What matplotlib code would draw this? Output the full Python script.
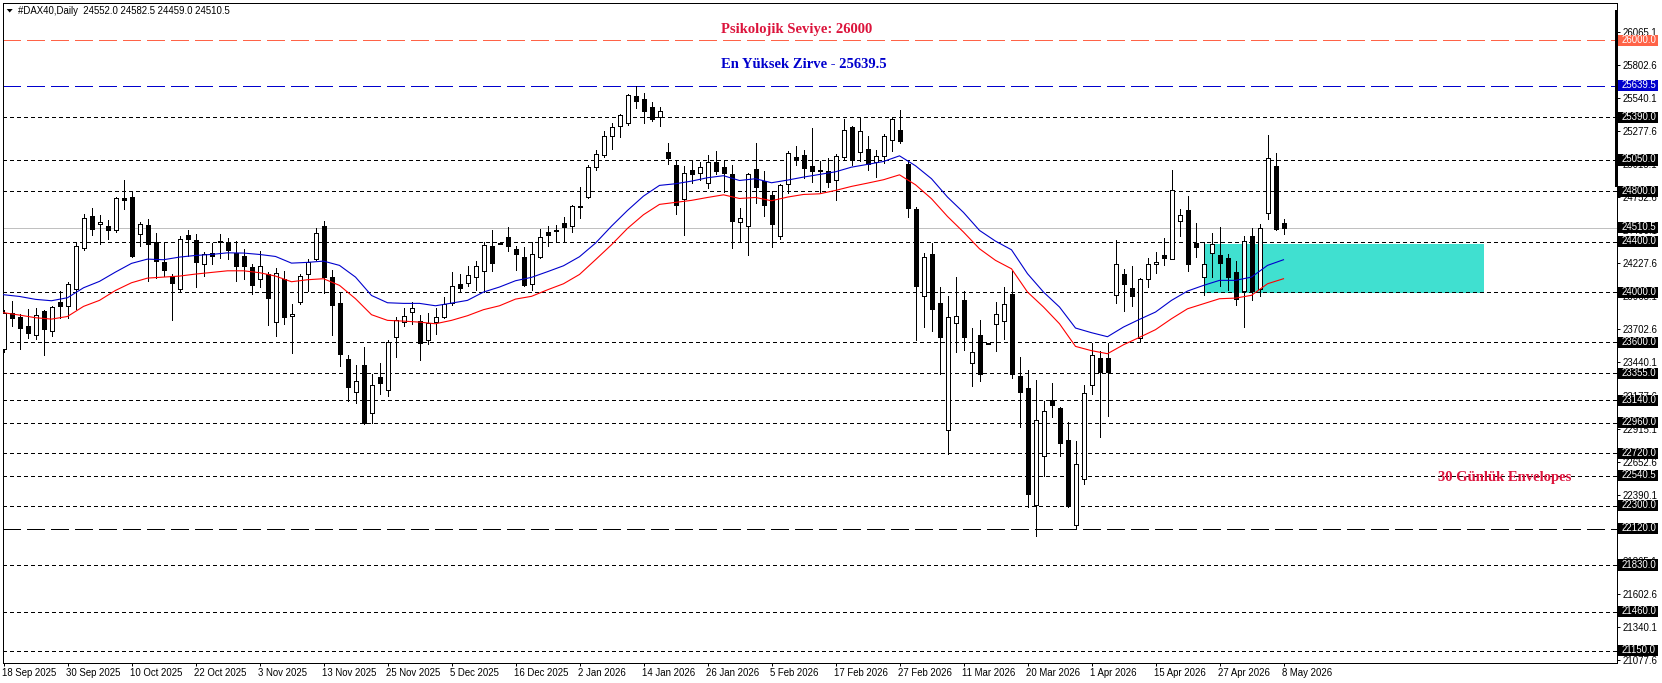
import numpy as np
import matplotlib
matplotlib.use("Agg")
import matplotlib.pyplot as plt
from matplotlib.patches import Rectangle, Polygon
from matplotlib.transforms import ScaledTranslation

# OHLC, one row of four lists per candle
opens = [23550,23836,23798,23727,23661,23846,23690,23918,23889,24024,24352,24601,24540,24522,24493,24744,24752,24461,24535,24400,24241,24130,24024,24450,24410,24222,24312,24408,24400,24310,24289,24196,24106,24140,23761,24100,23812,23923,24146,24262,24527,24122,23915,23470,23208,23422,23038,23327,23224,23645,23759,23844,23772,23618,23761,23801,
         23913,24061,24074,24122,24167,24368,24387,24440,24344,24281,24064,24278,24479,24495,24551,24525,24686,24752,24993,25086,25240,25319,25343,25555,25536,25473,25391,25110,25007,24739,24972,24946,24866,25036,24996,24940,24556,24525,24980,24882,24774,24445,24858,25076,25091,25004,24972,24964,24893,25076,25314,25115,25139,25036,
         25083,25211,25290,25022,24662,23971,24305,23915,22903,23756,23934,23438,23661,23595,23748,23772,23987,23335,23240,22310,22699,23139,23081,22826,22151,22514,23264,23473,23473,23976,24140,24034,23634,24103,24225,24291,24265,24567,24649,24387,24119,24310,24291,24267,24162,24005,24448,24026,24630,25004,24552]
highs = [23860,23926,23828,23862,23870,23859,23891,24005,24082,24400,24622,24665,24609,24575,24752,24887,24805,24559,24583,24471,24395,24146,24442,24490,24458,24320,24392,24463,24432,24408,24339,24220,24328,24156,24193,24169,23902,24146,24259,24511,24567,24177,23989,23502,23422,23560,23346,23438,23621,23804,23875,23923,23814,23830,23873,23957,
         24156,24140,24204,24244,24400,24490,24390,24514,24368,24358,24400,24503,24522,24535,24593,24689,24832,25009,25126,25282,25346,25415,25576,25640,25584,25513,25473,25189,25052,25004,25052,25036,25091,25118,25052,25012,24670,24946,25189,24964,24805,24856,25118,25158,25126,25306,25041,25068,25099,25375,25319,25380,25237,25131,
         25258,25385,25444,25038,24673,24313,24387,24042,23965,24122,24011,23711,23775,23597,23918,24037,24167,23481,23383,23298,23131,23279,23086,22970,22813,23258,23597,23534,23597,24416,24185,24204,24114,24268,24315,24426,24967,24657,24760,24546,24400,24466,24514,24299,24244,24442,24506,24538,25245,25107,24582.5]
lows = [23523,23727,23547,23634,23624,23499,23648,23791,23793,23862,24331,24453,24381,24418,24477,24657,24275,24365,24087,24108,24124,23777,24000,24286,24040,24127,24220,24270,24259,24087,24101,23987,24040,23738,23650,23746,23515,23905,24005,24252,23995,23658,23412,23134,23118,22955,22959,23189,23173,23483,23730,23746,23462,23589,23663,23793,
        23894,24000,24048,24013,24000,24167,24379,24326,24172,24048,24013,24273,24363,24405,24400,24477,24585,24747,24967,25073,25134,25232,25330,25462,25343,25359,25319,25017,24620,24453,24866,24893,24826,24935,24797,24350,24397,24294,24707,24604,24358,24419,24787,25009,24909,24874,24795,24834,24731,25060,25007,25041,24970,24911,
        25025,25120,25184,24596,23618,23722,23690,23348,22713,23523,23539,23253,23293,23587,23528,23626,23316,22927,22291,22061,22540,23005,22694,22291,22119,22471,23189,22848,23015,23913,23849,23889,23610,24040,24151,24215,24265,24445,24167,24278,23979,24119,24050,24013,23897,23722,23936,23968,24580,24493,24459]
closes = [23833,23793,23714,23671,23820,23706,23883,23886,24066,24368,24591,24501,24559,24490,24744,24731,24283,24540,24381,24246,24172,24071,24421,24418,24238,24299,24286,24400,24334,24207,24207,24055,24209,23952,24151,23801,23828,24130,24238,24471,24119,23897,23507,23245,23295,22962,23263,23277,23603,23777,23812,23875,23597,23756,23804,23904,
          24050,24029,24138,24209,24376,24230,24382,24366,24302,24056,24305,24440,24453,24487,24517,24686,24676,24996,25099,25242,25314,25409,25568,25518,25438,25375,25441,25062,24691,24948,24938,24993,25036,24962,24948,24564,24588,24940,24834,24691,24540,24850,25107,25049,24985,24962,24964,24874,25083,25290,25052,25282,25015,25081,
          25242,25377,25200,24667,24048,24281,23865,23642,23804,23812,23642,23526,23348,23589,23828,23907,23348,23205,22395,22985,23057,23102,22800,22299,22636,23200,23502,23362,23362,24225,24064,23968,24106,24225,24241,24270,24813,24615,24223,24358,24225,24384,24230,24116,23944,24408,24005,24511,25068,24501,24510.5]

# envelope lines, read every second candle
env_upper = [23979,23965,23942,23931,23955,24034,24085,24159,24228,24262,24257,24278,24291,24299,24312,24310,24299,24283,24230,24236,24246,24212,24119,23973,23915,23910,23910,23891,23912,23934,
             24000,24040,24090,24117,24162,24209,24281,24389,24524,24649,24763,24848,24861,24882,24909,24925,24887,24901,24869,24890,24914,24935,24956,24993,25015,
             25038,25083,25004,24901,24755,24633,24490,24405,24336,24146,24000,23881,23714,23677,23645,23722,23783,23841,23934,24008,24053,24093,24093,24119,24212,24257]
env_lower = [23836,23817,23796,23785,23806,23886,23934,24013,24074,24111,24119,24127,24143,24156,24169,24169,24154,24127,24082,24098,24106,24053,23947,23820,23775,23769,23761,23748,23775,23812,
             23860,23891,23944,23966,24018,24066,24140,24257,24376,24506,24615,24697,24713,24729,24752,24773,24744,24752,24726,24755,24776,24781,24808,24840,24866,
             24893,24932,24853,24742,24601,24477,24344,24252,24185,24000,23881,23748,23568,23534,23510,23581,23640,23701,23788,23867,23907,23947,23952,23974,24066,24106]

short_levels = [25390, 25050, 24800, 24400, 24000, 23600, 23355, 23140, 22960, 22720, 22540.5, 22300, 21830, 21460, 21150]
long_levels = [26000, 25639.5, 22120]
long_colors = ["#FF6347", "#0000CD", "black"]
last_price = 24510.5

price_ticks = [26065.1, 25802.6, 25540.1, 25277.6, 25015.1, 24752.6, 24490.1, 24227.6, 23965.1, 23702.6, 23440.1,
               23177.6, 22915.1, 22652.6, 22390.1, 22127.6, 21865.1, 21602.6, 21340.1, 21077.6]
date_labels = ["18 Sep 2025", "30 Sep 2025", "10 Oct 2025", "22 Oct 2025", "3 Nov 2025", "13 Nov 2025", "25 Nov 2025",
               "5 Dec 2025", "16 Dec 2025", "2 Jan 2026", "14 Jan 2026", "26 Jan 2026", "5 Feb 2026", "17 Feb 2026",
               "27 Feb 2026", "11 Mar 2026", "20 Mar 2026", "1 Apr 2026", "15 Apr 2026", "27 Apr 2026", "8 May 2026"]

W, H = 1662, 683
SANS = "Liberation Sans"
SERIF = "Liberation Serif"
plt.rcParams["font.family"] = SANS

fig = plt.figure(figsize=(W / 100, H / 100), dpi=100, facecolor="white")
ax = fig.add_axes([2.5 / W, 1 - 662.5 / H, 1614 / W, 660 / H])
ax.set_xlim(-0.125, 201.625)
ax.set_ylim(21055, 26302)

opens, highs, lows, closes = map(np.array, (opens, highs, lows, closes))
bars = np.arange(len(opens))
px = 0.72  # one pixel in points

# supply/demand zone behind everything
ax.add_patch(Rectangle((150, 23992), 35, 393, facecolor="#40E0D0", edgecolor="none", zorder=1, antialiased=False))

# horizontal levels
for lvl in short_levels:
    ax.axhline(lvl, color="black", lw=px, ls=(0, (4, 3)), zorder=2, antialiased=False)
for lvl, col in zip(long_levels, long_colors):
    ax.axhline(lvl, color=col, lw=px, ls=(0, (18, 6)), zorder=2, antialiased=False)
ax.axhline(last_price, color="#C0C0C0", lw=px, zorder=2, antialiased=False)

# candles
ax.vlines(bars, lows, highs, color="black", lw=px, zorder=3, antialiased=False)
up = closes >= opens
ax.bar(bars[up], (closes - opens)[up], bottom=opens[up], width=0.5, facecolor="white", edgecolor="black",
       lw=px, zorder=4, antialiased=False)
ax.bar(bars[~up], (opens - closes)[~up], bottom=closes[~up], width=0.5, facecolor="black", edgecolor="black",
       lw=px, zorder=4, antialiased=False)

# envelopes
env_x = np.arange(0, len(opens), 2)
ax.plot(env_x, env_upper, color="#0000CD", lw=0.8, zorder=5)
ax.plot(env_x, env_lower, color="#FF0000", lw=0.8, zorder=5)

# chart annotations
ax.text(89.7, 26086, "Psikolojik Seviye: 26000", color="#DC143C", fontsize=10.5, family=SERIF, weight="bold", va="center", zorder=6)
ax.text(89.7, 25808, "En Yüksek Zirve - 25639.5", color="#0000CD", fontsize=10.5, family=SERIF, weight="bold", va="center", zorder=6)
ax.text(179.3, 22527, "30 Günlük Envelopes", color="#DC143C", fontsize=10.5, family=SERIF, weight="bold", va="center", zorder=6)

# axes
for spine in ax.spines.values():
    spine.set_linewidth(px)
ax.yaxis.tick_right()
ax.set_yticks(price_ticks)
ax.set_yticklabels([f"{t:.1f}" for t in price_ticks])
ax.set_xticks(np.arange(0, 161, 8))
ax.set_xticklabels(date_labels, ha="left")
ax.tick_params(axis="y", length=2.2, width=px, pad=2.2, labelsize=6.9)
ax.tick_params(axis="x", length=2.2, width=px, pad=1.8, labelsize=6.9)
# date labels start a little left of their tick
shift = ScaledTranslation(-1.5 / 100, 0, fig.dpi_scale_trans)
for label in ax.get_xticklabels():
    label.set_transform(label.get_transform() + shift)

# price flags on the right hand scale
flags = [(lvl, "black") for lvl in short_levels + [22120, last_price]] + [(26000, "#FF6347"), (25639.5, "#0000CD")]
ytrans = ax.get_yaxis_transform()
for lvl, col in flags:
    ax.add_patch(Rectangle((1615 / 1614, lvl - 44), 41 / 1614, 88, facecolor=col, edgecolor="none",
                           transform=ytrans, clip_on=False, zorder=7))
    ax.text(1619.5 / 1614, lvl + 4, f"{lvl:.1f}", color="white", fontsize=6.9, va="center", ha="left",
            transform=ytrans, clip_on=False, zorder=8)

# thick bar on the scale edge, header triangle and symbol line
fig.add_artist(Rectangle((1615.3 / W, 1 - 187 / H), 2.7 / W, 177 / H, transform=fig.transFigure, facecolor="black", edgecolor="none"))
fig.add_artist(Polygon([(6.7 / W, 1 - 9 / H), (12.7 / W, 1 - 9 / H), (9.7 / W, 1 - 12.5 / H)], transform=fig.transFigure,
                       facecolor="black", edgecolor="none"))
fig.text(18 / W, 1 - 10.7 / H, "#DAX40,Daily  24552.0 24582.5 24459.0 24510.5", fontsize=6.9, va="center", ha="left")

fig.savefig("out.png", dpi=100)
